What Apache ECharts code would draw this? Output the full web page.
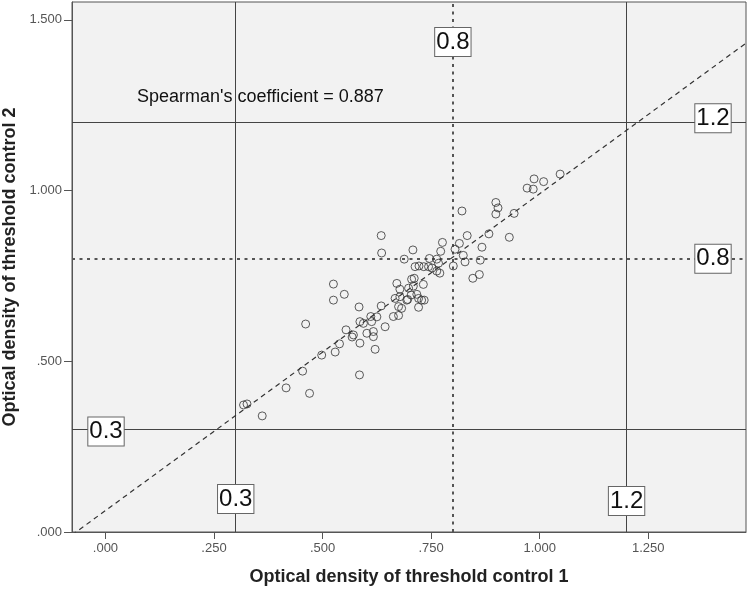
<!DOCTYPE html>
<html>
<head>
<meta charset="utf-8">
<script src="https://cdn.jsdelivr.net/npm/echarts@6/dist/echarts.min.js"></script>
<style>html,body{margin:0;padding:0;background:#fff;}#c{width:750px;height:589px;}</style>
</head>
<body>
<div id="c"></div>
<script>
// Optical density of threshold control 1 (x) and control 2 (y)
const control1 = [
  1.047,0.987,1.009,0.971,0.985,0.899,0.904,0.899,0.941,0.821,
  0.883,0.930,0.867,0.833,0.815,0.805,0.776,0.772,0.824,0.828,
  0.801,0.863,0.861,0.846,0.708,0.688,0.746,0.763,0.767,0.713,
  0.722,0.733,0.744,0.752,0.770,0.763,0.635,0.636,0.671,0.678,
  0.705,0.711,0.709,0.698,0.732,0.667,0.678,0.696,0.704,0.717,
  0.721,0.734,0.728,0.721,0.675,0.682,0.663,0.675,0.635,0.625,
  0.644,0.617,0.617,0.621,0.694,0.525,0.550,0.525,0.584,0.461,
  0.611,0.594,0.586,0.613,0.554,0.568,0.571,0.602,0.586,0.539,
  0.529,0.498,0.454,0.585,0.416,0.470,0.361,0.318,0.326
];
const control2 = [
  1.048,1.034,1.026,1.007,1.004,0.965,0.949,0.931,0.933,0.940,
  0.873,0.863,0.834,0.868,0.845,0.828,0.848,0.822,0.810,0.791,
  0.779,0.796,0.754,0.743,0.826,0.799,0.801,0.799,0.787,0.777,
  0.779,0.777,0.777,0.773,0.758,0.764,0.868,0.817,0.728,0.711,
  0.740,0.743,0.720,0.714,0.725,0.684,0.689,0.681,0.694,0.696,
  0.684,0.679,0.679,0.658,0.660,0.655,0.631,0.634,0.662,0.630,
  0.601,0.587,0.572,0.535,0.679,0.726,0.696,0.679,0.659,0.609,
  0.631,0.611,0.616,0.616,0.592,0.571,0.577,0.582,0.553,0.551,
  0.527,0.518,0.471,0.460,0.422,0.406,0.340,0.372,0.375
];
const xTicks = [0, 0.25, 0.5, 0.75, 1.0, 1.25];
const yTicks = [0, 0.5, 1.0, 1.5];
const xMin = -0.077, xMax = 1.475, yMin = 0, yMax = 1.552;
// reference cut-offs
const cutSolid = [0.3, 1.2];
const cutDotted = [0.8];
// fit line (intercept, slope)
const fitIntercept = 0.0627, fitSlope = 0.928;
const spearmanText = "Spearman's coefficient = 0.887";
const xTitle = 'Optical density of threshold control 1';
const yTitle = 'Optical density of threshold control 2';

const FONT = 'Arial, "Liberation Sans", sans-serif';
const fmt = v => { const s = v.toFixed(3); return s.startsWith('0.') ? s.slice(1) : s; };

const points = control1.map((x, i) => [x, control2[i]]);
const fitData = [[xMin, fitIntercept + fitSlope * xMin], [xMax, fitIntercept + fitSlope * xMax]];

const solidStyle = { type: 'solid', color: '#444', width: 1 };
const dotStyle = { type: [3, 4.5], color: '#555', width: 2 };
const lines = [];
cutSolid.forEach(v => { lines.push({ xAxis: v, lineStyle: solidStyle }); lines.push({ yAxis: v, lineStyle: solidStyle }); });
cutDotted.forEach(v => { lines.push({ xAxis: v, lineStyle: dotStyle }); lines.push({ yAxis: v, lineStyle: dotStyle }); });

// label boxes: vertical 0.3 & 1.2 at bottom, 0.8 at top; horizontal 0.3 at left, 0.8 & 1.2 at right
const labelPts = [
  { coord: [cutSolid[0], yMin], value: cutSolid[0], label: { offset: [0, -33] } },
  { coord: [cutSolid[1], yMin], value: cutSolid[1], label: { offset: [0, -31] } },
  { coord: [cutDotted[0], yMax], value: cutDotted[0], label: { offset: [0, 40] } },
  { coord: [xMin, cutSolid[0]], value: cutSolid[0], label: { offset: [34, 2] } },
  { coord: [xMax, cutDotted[0]], value: cutDotted[0], label: { offset: [-33, 0] } },
  { coord: [xMax, cutSolid[1]], value: cutSolid[1], label: { offset: [-33, -4] } }
];

const chart = echarts.init(document.getElementById('c'), null, { renderer: 'canvas' });
chart.setOption({
  animation: false,
  backgroundColor: '#fff',
  textStyle: { fontFamily: FONT },
  grid: { left: 72, right: 4, top: 2, bottom: 57, outerBoundsMode: 'none', containLabel: false, show: true, backgroundColor: '#f2f2f2', borderColor: '#555', borderWidth: 1 },
  xAxis: {
    type: 'value', min: xMin, max: xMax,
    name: xTitle, nameLocation: 'middle', nameGap: 36,
    nameTextStyle: { fontSize: 18, fontWeight: 'bold', color: '#222', fontFamily: FONT },
    axisLine: { show: true, onZero: false, lineStyle: { color: '#555' } },
    axisTick: { show: true, length: 7, customValues: xTicks, lineStyle: { color: '#555' } },
    axisLabel: { customValues: xTicks, formatter: fmt, fontSize: 13, color: '#555', margin: 10, fontFamily: FONT },
    splitLine: { show: false }
  },
  yAxis: {
    type: 'value', min: yMin, max: yMax,
    name: yTitle, nameLocation: 'middle', nameGap: 51,
    nameTextStyle: { fontSize: 18, fontWeight: 'bold', color: '#222', fontFamily: FONT },
    axisLine: { show: true, onZero: false, lineStyle: { color: '#555' } },
    axisTick: { show: true, length: 8, customValues: yTicks, lineStyle: { color: '#555' } },
    axisLabel: { customValues: yTicks, formatter: fmt, fontSize: 13, color: '#555', margin: 10, fontFamily: FONT },
    splitLine: { show: false }
  },
  graphic: [{
    type: 'text', left: 137, top: 88, silent: true,
    style: { text: spearmanText, font: '18px ' + FONT, fill: '#111' }
  }],
  series: [
    {
      type: 'line', data: fitData, showSymbol: false, symbol: 'none', clip: true, silent: true,
      lineStyle: { type: [5, 4], color: '#333', width: 1.2 }, z: 3
    },
    {
      type: 'scatter', data: points, symbol: 'circle', symbolSize: 8, z: 4,
      itemStyle: { color: 'rgba(0,0,0,0)', borderColor: '#333', borderWidth: 1 },
      markLine: { silent: true, symbol: 'none', label: { show: false }, data: lines, z: 2 },
      markPoint: {
        silent: true, symbol: 'rect', symbolSize: 1, itemStyle: { color: 'rgba(0,0,0,0)' },
        label: {
          show: true, position: 'inside', formatter: p => String(p.value),
          fontSize: 24, color: '#111', fontFamily: FONT,
          backgroundColor: '#fff', borderColor: '#666', borderWidth: 1, padding: [3, 1, 1, 1]
        },
        data: labelPts, z: 5
      }
    }
  ]
});
</script>
</body>
</html>
